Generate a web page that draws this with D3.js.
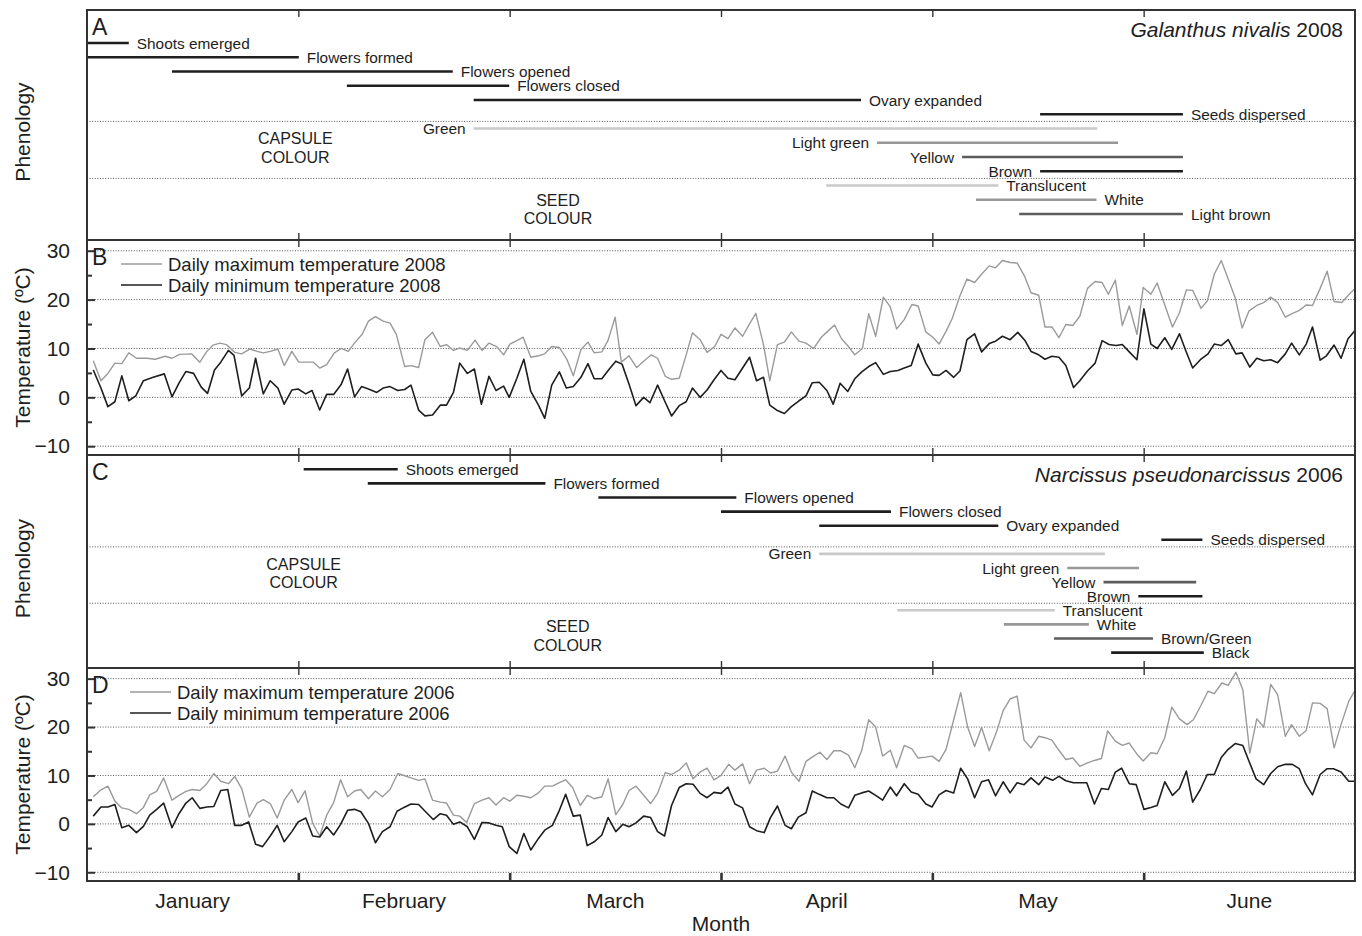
<!DOCTYPE html>
<html>
<head>
<meta charset="utf-8">
<script src="https://cdn.jsdelivr.net/npm/d3@7"></script>
<style>
  body { margin: 0; background: #fff; }
  svg { display: block; font-family: "Liberation Sans", Arial, Helvetica, sans-serif; }
</style>
</head>
<body>
<svg id="chart" width="1362" height="936"></svg>
<script>
// ---- data ----
const months = ["January", "February", "March", "April", "May", "June"];
const dayCount = 182; // Jan 1 .. Jun 30

// phenology: [label, first day, last day] (day 0 = 1 January)
const galanthusStages = [
    ["Shoots emerged", 0, 6.0],
    ["Flowers formed", 0, 30.4],
    ["Flowers opened", 12.2, 52.5],
    ["Flowers closed", 37.3, 60.6],
    ["Ovary expanded", 55.5, 111.1],
    ["Seeds dispersed", 136.8, 157.3]
];
const galanthusCapsule = [
    ["Green", 55.5, 145.0],
    ["Light green", 113.4, 148.0],
    ["Yellow", 125.6, 157.3],
    ["Brown", 136.8, 157.3]
];
const galanthusSeed = [
    ["Translucent", 106.1, 130.8],
    ["White", 127.6, 144.9],
    ["Light brown", 133.8, 157.3]
];

const narcissusStages = [
    ["Shoots emerged", 31.1, 44.6],
    ["Flowers formed", 40.3, 65.8],
    ["Flowers opened", 73.4, 93.2],
    ["Flowers closed", 91.0, 115.4],
    ["Ovary expanded", 105.1, 130.8],
    ["Seeds dispersed", 154.2, 160.1]
];
const narcissusCapsule = [
    ["Green", 105.1, 146.1],
    ["Light green", 140.7, 151.0],
    ["Yellow", 145.9, 159.2],
    ["Brown", 150.9, 160.1]
];
const narcissusSeed = [
    ["Translucent", 116.3, 138.9],
    ["White", 131.6, 143.8],
    ["Brown/Green", 138.8, 153.0],
    ["Black", 147.0, 160.3]
];

// daily temperatures: [day, ºC]
const maxTemp2008 = [[0.9,7.5],[2,3.4],[3,4.9],[4,7.0],[5,6.9],[6,9.1],[7.1,8.0],[8.6,8.0],[9.8,7.8],[11.2,8.4],[12.2,8.0],[13.3,8.8],[15,8.9],[16.2,7.2],[17.2,9.4],[18.1,10.7],[19.1,11.1],[20,10.8],[21.2,9.2],[22.2,8.9],[23.4,9.9],[24.4,9.4],[25.3,9.1],[26.3,9.4],[27.4,9.9],[28.3,6.5],[29.4,9.4],[30.4,7.2],[31.5,7.2],[32.5,7.2],[33.4,6.0],[34.4,6.7],[35.5,9.1],[36.5,10.0],[37.5,9.4],[38.5,11.3],[39.5,12.9],[40.4,15.6],[41.4,16.5],[42.5,15.6],[43.5,15.2],[44.4,12.9],[45.6,6.3],[46.5,6.5],[47.6,6.1],[48.5,11.8],[49.6,13.3],[50.7,10.4],[51.6,10.8],[52.6,9.6],[53.5,10.1],[54.6,9.6],[55.7,11.7],[56.7,9.6],[57.7,11.1],[58.8,10.4],[59.8,8.7],
    [60.7,10.9],[61.7,11.6],[62.6,12.3],[63.7,8.2],[64.8,8.5],[65.7,8.9],[66.7,10.4],[67.8,10.2],[68.9,7.7],[69.8,4.4],[70.9,9.8],[71.9,11.3],[72.8,9.1],[73.9,9.3],[74.8,11.7],[75.8,16.4],[76.7,7.2],[77.8,8.5],[78.9,6.1],[79.9,7.4],[81,8.7],[81.9,8.0],[83,4.3],[83.9,3.7],[85,3.9],[86,8.7],[86.9,13.2],[88,11.8],[89,9.2],[90.1,10.4],[91,12.9],[92,12.0],[93,14.2],[94.1,12.5],[95.2,15.3],[96,17.2],[97.1,10.8],[98,3.4],[99.1,10.8],[100.1,11.3],[101.1,13.4],[102.2,11.5],[103.2,11.1],[104.3,10.0],[105.4,12.3],[106.3,13.5],[107.3,14.8],[108.3,12.0],[109.3,10.4],[110.2,8.7],[111.3,10.0],[112.2,17.1],[113.2,12.5],[114.3,20.5],[115.3,18.5],[116.2,14.0],[117.3,15.9],[118.4,19.0],[119.3,18.7],[120.4,13.4],
    [121.4,12.3],[122.3,10.9],[123.3,13.5],[124.2,16.2],[125.3,20.8],[126.3,24.2],[127.4,23.5],[128.4,25.2],[129.5,26.9],[130.4,26.5],[131.4,28.0],[132.5,27.6],[133.5,27.5],[134.6,24.7],[135.5,21.4],[136.6,20.9],[137.5,14.4],[138.5,14.4],[139.5,12.2],[140.5,14.9],[141.5,14.7],[142.5,16.6],[143.6,22.3],[144.7,23.7],[145.7,23.5],[146.6,21.1],[147.6,24.0],[148.6,14.7],[149.6,18.7],[150.7,12.9],[151.6,22.5],[152.7,21.1],[153.6,23.4],[154.7,18.9],[155.8,14.4],[156.8,17.3],[157.8,22.0],[158.7,21.9],[159.9,18.2],[160.8,19.7],[161.8,25.2],[162.8,28.0],[163.8,24.2],[164.8,20.4],[165.8,14.2],[166.8,17.7],[167.9,18.8],[168.9,19.4],[169.9,20.5],[170.9,19.4],[172,16.4],[172.9,17.1],[174,17.8],[175,18.9],[175.9,18.8],[177,22.3],[178,25.8],[179,19.6],[180.1,19.4],[181.1,21.0],[182,22.3]];

const minTemp2008 = [[0.9,5.6],[2,1.9],[3,-1.9],[4,-0.9],[5,4.4],[6,-0.7],[7,0.3],[8.1,3.4],[9.5,4.1],[11.1,4.8],[12.2,0.1],[13.2,2.9],[14.2,5.3],[15.3,4.9],[16.4,2.1],[17.3,0.8],[18.3,5.6],[19.2,7.2],[20.3,9.6],[21.1,8.6],[22.2,0.3],[23.3,1.9],[24.2,8.0],[25.3,0.7],[26.3,3.4],[27.4,1.9],[28.3,-1.4],[29.4,1.5],[30.3,1.7],[31.4,0.7],[32.3,1.4],[33.4,-2.6],[34.4,0.6],[35.4,0.6],[36.5,2.7],[37.4,5.8],[38.4,0.1],[39.4,2.2],[40.4,1.7],[41.6,1.0],[42.5,1.9],[43.5,2.2],[44.6,1.4],[45.6,1.6],[46.5,2.5],[47.6,-2.6],[48.5,-3.8],[49.6,-3.6],[50.7,-1.6],[51.6,-1.6],[52.6,1.0],[53.5,7.0],[54.6,4.9],[55.6,5.8],[56.6,-1.4],[57.7,4.3],[58.7,1.4],[59.8,2.3],[60.6,0.0],
    [61.7,3.9],[62.7,7.8],[63.7,1.2],[64.8,-1.6],[65.7,-4.3],[66.7,2.5],[67.8,5.2],[68.8,1.9],[69.8,2.2],[70.9,4.1],[71.9,6.9],[72.8,3.8],[73.9,3.8],[74.8,5.5],[75.9,7.4],[76.8,6.8],[77.8,2.7],[78.8,-1.7],[79.9,0],[80.8,-1.1],[81.9,2.5],[82.9,-0.7],[83.9,-3.8],[85,-1.7],[86,-0.9],[86.9,1.9],[88,0],[89,1.5],[90,3.6],[91,5.5],[92,3.9],[93,3.6],[94.1,6.0],[95.1,8.2],[96.1,3.4],[97.1,4.1],[98,-1.6],[99.1,-2.7],[100.1,-3.3],[101.1,-1.9],[102.2,-0.7],[103.2,0.3],[104.1,3.0],[105.1,3.1],[106.2,1.4],[107.1,-1.4],[108.1,2.9],[109.2,1.2],[110.2,3.8],[111.2,5.2],[112.2,6.3],[113.2,7.1],[114.3,4.7],[115.3,5.3],[116.4,5.5],[117.3,6.0],[118.3,6.5],[119.3,10.9],[120.4,7.0],
    [121.4,4.6],[122.3,4.5],[123.3,5.5],[124.4,4.1],[125.3,5.4],[126.3,11.8],[127.4,13.0],[128.4,9.3],[129.5,11.0],[130.4,11.5],[131.4,12.5],[132.5,11.8],[133.6,13.3],[134.6,11.7],[135.5,9.4],[136.6,8.7],[137.5,7.8],[138.5,8.4],[139.5,8.2],[140.5,6.5],[141.6,2.0],[142.5,3.4],[143.6,5.4],[144.7,7.0],[145.7,11.6],[146.7,10.8],[147.7,10.6],[148.6,10.8],[149.6,9.3],[150.7,7.7],[151.7,18.1],[152.7,10.9],[153.6,10.0],[154.7,12.2],[155.7,9.8],[156.8,13.0],[157.7,9.6],[158.7,6.0],[159.8,7.7],[160.9,8.9],[161.8,10.9],[162.8,10.6],[163.8,11.8],[164.9,8.9],[165.8,9.1],[166.9,6.2],[167.9,8.0],[168.9,7.5],[169.9,7.7],[170.9,7.1],[172,8.9],[172.9,11.1],[174,8.7],[175,10.9],[175.9,14.4],[177,7.6],[177.9,8.5],[179,10.7],[180,8.0],[181,12.0],[182,13.7]];

const maxTemp2006 = [[0.9,5.6],[1.9,6.9],[3,7.8],[4,4.7],[5,3.3],[6,3.0],[7.1,2.1],[8.1,3.4],[9,6.0],[10,6.7],[11,9.5],[12.2,4.9],[13.2,5.9],[14.2,6.7],[15.1,7.1],[16.2,6.9],[17.2,8.3],[18.2,10.4],[19.2,8.8],[20.3,8.3],[21.2,9.8],[22.2,7.3],[23.3,1.4],[24.4,4.3],[25.3,5.0],[26.3,4.2],[27.3,1.2],[28.3,4.9],[29.4,7.1],[30.3,4.4],[31.3,6.8],[32.4,0.1],[33.4,-2.5],[34.4,1.8],[35.4,4.4],[36.4,9.1],[37.4,5.6],[38.4,6.8],[39.3,7.1],[40.4,5.2],[41.4,6.8],[42.4,5.6],[43.5,7.1],[44.6,10.4],[45.5,10.0],[46.5,9.5],[47.6,9.0],[48.5,9.3],[49.6,4.9],[50.7,4.5],[51.6,4.3],[52.6,1.8],[53.5,1.6],[54.5,0.3],[55.6,4.2],[56.7,4.9],[57.7,5.4],[58.7,3.9],[59.8,5.4],
    [60.7,4.7],[61.7,5.9],[62.7,5.7],[63.7,5.4],[64.8,6.4],[65.7,7.8],[66.8,7.8],[67.8,8.5],[68.7,9.1],[69.7,7.5],[70.8,3.8],[71.8,5.9],[72.8,5.2],[73.9,5.6],[74.8,9.3],[75.9,1.9],[76.9,4.0],[77.8,6.9],[78.8,7.8],[79.9,5.9],[80.9,4.2],[81.9,6.3],[83,10.6],[83.9,10.2],[85,11.1],[86,12.6],[87,9.3],[88,10.7],[89,11.5],[90,9.1],[91,10.0],[92.1,12.3],[93,11.1],[94.1,12.4],[95.1,8.3],[96.1,11.1],[97.2,11.5],[98.1,10.5],[99.1,10.9],[100.2,14.0],[101.1,10.7],[102.2,8.8],[103.2,12.9],[104.3,14.0],[105.2,14.8],[106.2,13.3],[107.2,15.1],[108.2,15.1],[109.3,14.2],[110.2,11.6],[111.2,15.2],[112.2,21.5],[113.2,20.0],[114.2,14.0],[115.3,15.2],[116.2,11.6],[117.3,16.2],[118.4,15.5],[119.3,13.6],[120.4,13.8],
    [121.3,14.0],[122.3,12.9],[123.3,15.4],[124.4,21.5],[125.4,27.1],[126.4,20.0],[127.4,16.0],[128.4,19.9],[129.5,15.1],[130.5,18.8],[131.5,23.4],[132.5,25.8],[133.5,26.4],[134.5,17.3],[135.5,15.7],[136.6,18.1],[137.5,17.8],[138.5,17.3],[139.5,15.2],[140.5,13.3],[141.5,13.6],[142.5,11.9],[143.6,12.6],[144.6,13.1],[145.6,13.5],[146.5,19.2],[147.6,17.1],[148.6,16.2],[149.6,16.7],[150.7,14.4],[151.6,13.0],[152.7,14.7],[153.6,14.5],[154.7,17.8],[155.7,24.1],[156.8,21.7],[157.9,20.5],[158.8,21.5],[159.9,24.5],[160.9,27.4],[161.8,26.9],[162.9,29.1],[163.8,28.6],[164.9,31.3],[165.9,27.7],[166.9,14.6],[167.9,21.7],[168.9,20.0],[169.9,28.8],[170.9,26.7],[172,18.1],[172.9,20.5],[174,18.1],[175,19.3],[175.9,25.0],[177,24.9],[178,23.8],[179,15.7],[180,20.5],[181.1,25.3],[182,27.6]];

const minTemp2006 = [[0.9,1.6],[2,3.5],[3,3.5],[4,4.0],[5,-0.8],[6,-0.3],[7.1,-1.8],[8.1,-0.5],[9,1.8],[10,3.0],[11,4.3],[12.2,-0.8],[13.2,2.1],[14.2,4.3],[15.1,5.4],[16.2,3.2],[17.2,3.5],[18.2,3.6],[19.2,6.9],[20.2,7.1],[21.2,-0.3],[22.2,-0.3],[23.2,0.4],[24.2,-4.2],[25.2,-4.7],[26.3,-2.5],[27.3,-0.3],[28.3,-3.7],[29.4,-1.6],[30.3,0.4],[31.4,1.2],[32.4,-2.5],[33.4,-2.7],[34.4,-0.6],[35.4,-2.3],[36.4,-0.1],[37.4,2.8],[38.4,3.0],[39.3,2.5],[40.4,0.1],[41.4,-3.9],[42.4,-1.6],[43.5,-0.6],[44.5,2.6],[45.5,3.4],[46.5,4.1],[47.6,4.0],[48.6,2.5],[49.7,0.9],[50.7,2.1],[51.6,1.8],[52.6,-0.1],[53.5,0.4],[54.6,-0.6],[55.6,-3.2],[56.7,0.3],[57.7,0.2],[58.7,-0.3],[59.6,-0.6],[60.6,-4.7],
    [61.7,-6.1],[62.7,-2.0],[63.7,-5.4],[64.8,-3.0],[65.7,-1.3],[66.8,-0.3],[67.8,2.8],[68.7,6.1],[69.8,1.6],[70.8,1.8],[71.8,-4.5],[72.8,-3.7],[73.9,-2.3],[74.8,1.3],[75.9,-1.6],[76.9,-0.1],[77.8,-0.6],[78.8,0.2],[79.9,1.6],[80.9,1.3],[81.9,-1.6],[82.9,-2.5],[83.9,3.8],[85,7.5],[86,8.3],[87,8.2],[88,6.3],[89,5.4],[90,6.5],[91,6.3],[92,7.6],[93,4.1],[94.1,3.3],[95.1,-0.6],[96.1,-1.4],[97.2,-1.8],[98.1,1.3],[99.1,3.7],[100.2,-0.3],[101.1,-1.0],[102.1,1.4],[103.2,2.3],[104.1,6.8],[105.1,6.1],[106.2,5.4],[107.2,5.4],[108.2,4.1],[109.3,3.3],[110.2,5.9],[111.2,6.4],[112.2,6.8],[113.2,5.9],[114.2,4.9],[115.3,7.6],[116.2,5.8],[117.3,8.3],[118.3,6.6],[119.3,6.1],[120.4,4.1],
    [121.3,3.5],[122.3,6.0],[123.3,6.9],[124.4,6.4],[125.4,11.5],[126.4,9.3],[127.4,5.4],[128.4,8.7],[129.4,9.1],[130.4,5.8],[131.5,8.7],[132.5,6.4],[133.5,8.5],[134.5,8.1],[135.5,9.5],[136.6,8.1],[137.5,9.7],[138.6,9.0],[139.5,9.8],[140.5,8.9],[141.6,8.5],[142.5,8.5],[143.5,8.5],[144.6,4.1],[145.6,7.3],[146.6,7.1],[147.6,10.7],[148.5,11.5],[149.6,8.3],[150.6,8.1],[151.7,3.0],[152.7,3.4],[153.6,3.8],[154.7,8.7],[155.8,5.9],[156.8,7.3],[157.8,10.9],[158.7,4.5],[159.8,7.1],[160.8,10.2],[161.8,10.2],[162.8,13.7],[163.8,15.4],[164.8,16.6],[165.9,16.2],[166.8,12.9],[167.8,9.3],[168.9,8.1],[169.9,10.4],[170.9,11.8],[172,12.3],[173,12.3],[174,11.4],[174.9,8.3],[175.9,6.0],[177,10.2],[178,11.4],[178.9,11.4],[180,10.7],[181.1,8.8],[182,8.8]];

const tempMajorTicks = [-10, 0, 10, 20, 30];
const tempMinorTicks = [-5, 5, 15, 25];

// ---- styles ----
const shade = {
    "Green": "#c9c9c9", "Translucent": "#c9c9c9",
    "Light green": "#979797", "White": "#979797",
    "Yellow": "#5c5c5c", "Light brown": "#5c5c5c", "Brown/Green": "#5c5c5c"
};
const ink = "#1e1e1e";
const frameCol = "#333";
const labelSize = 15.4;

const svg = d3.select("#chart");
const plotL = 87, plotR = 1355;
const x = d3.scaleLinear([0, dayCount], [plotL, plotR]);
const monthBounds = d3.range(months.length + 1).map(i => i * dayCount / months.length);

function monthTicks(g, top, bottom, width) {
    const inner = monthBounds.slice(1, -1);
    g.append("g").attr("transform", `translate(0,${top})`)
        .call(d3.axisBottom(x).tickValues(inner).tickSize(7).tickFormat(""))
        .call(a => a.select(".domain").remove())
        .selectAll("line").attr("stroke", frameCol).attr("stroke-width", 1.4);
    g.append("g").attr("transform", `translate(0,${bottom})`)
        .call(d3.axisTop(x).tickValues(inner).tickSize(width > 2 ? 8 : 7).tickFormat(""))
        .call(a => a.select(".domain").remove())
        .selectAll("line").attr("stroke", frameCol).attr("stroke-width", width);
}

function panelLetter(g, top, letter) {
    g.append("text").attr("x", plotL + 5).attr("y", top + 25)
        .attr("font-size", 23).attr("fill", ink).text(letter);
}

function yTitle(g, cy, label) {
    g.append("text")
        .attr("transform", `translate(30,${cy}) rotate(-90)`)
        .attr("text-anchor", "middle").attr("font-size", 21).attr("fill", ink)
        .text(label);
}

function drawPhenology(opt) {
    const g = svg.append("g");
    const rows = [...opt.stages, ...opt.capsule, ...opt.seed];
    const rowY = i => opt.top + opt.firstRow + i * opt.rowStep;
    const nStage = opt.stages.length, nCaps = opt.capsule.length;
    const sep1 = (rowY(nStage - 1) + rowY(nStage)) / 2;
    const sep2 = (rowY(nStage + nCaps - 1) + rowY(nStage + nCaps)) / 2;
    const isCapsule = i => i >= nStage && i < nStage + nCaps;

    g.selectAll(".sep").data([sep1, sep2]).enter().append("line")
        .attr("x1", plotL).attr("x2", plotR).attr("y1", d => d).attr("y2", d => d)
        .attr("stroke", "#555").attr("stroke-width", 1).attr("stroke-dasharray", "1,1.6");

    const items = g.selectAll(".phase").data(rows).enter().append("g");
    items.append("line")
        .attr("x1", d => x(d[1])).attr("x2", d => x(d[2]))
        .attr("y1", (d, i) => rowY(i)).attr("y2", (d, i) => rowY(i))
        .attr("stroke", d => shade[d[0]] || ink).attr("stroke-width", 2.6);
    items.append("text")
        .attr("x", (d, i) => isCapsule(i) ? x(d[1]) - 8 : x(d[2]) + 8)
        .attr("y", (d, i) => rowY(i)).attr("dy", "0.36em")
        .attr("text-anchor", (d, i) => isCapsule(i) ? "end" : "start")
        .attr("font-size", labelSize).attr("fill", ink)
        .text(d => d[0]);

    const regions = [
        { words: ["CAPSULE", "COLOUR"], day: opt.capsuleAt, cy: (sep1 + sep2) / 2 - 2 },
        { words: ["SEED", "COLOUR"], day: opt.seedAt, cy: (sep2 + opt.bottom) / 2 }
    ];
    regions.forEach(r => {
        r.words.forEach((w, k) => {
            g.append("text").attr("x", x(r.day)).attr("y", r.cy + (k ? 9.2 : -9.2)).attr("dy", "0.36em")
                .attr("text-anchor", "middle").attr("font-size", 16).attr("fill", ink).text(w);
        });
    });

    const title = g.append("text").attr("x", plotR - 12).attr("y", opt.top + 27)
        .attr("text-anchor", "end").attr("font-size", 21).attr("fill", ink);
    title.append("tspan").attr("font-style", "italic").text(opt.species);
    title.append("tspan").text(" " + opt.year);

    panelLetter(g, opt.top, opt.letter);
    monthTicks(g, opt.top, opt.bottom, 1.4);
    yTitle(g, (opt.top + opt.bottom) / 2 + 7, "Phenology");
}

function drawTemperature(opt) {
    const g = svg.append("g");
    const y = d3.scaleLinear([-11.8, 32.2], [opt.bottom, opt.top]);

    g.selectAll(".grid").data(tempMajorTicks).enter().append("line")
        .attr("x1", plotL).attr("x2", plotR).attr("y1", d => y(d)).attr("y2", d => y(d))
        .attr("stroke", "#555").attr("stroke-width", 1).attr("stroke-dasharray", "1,1.6");

    const line = d3.line().x(d => x(d[0])).y(d => y(d[1])).curve(d3.curveLinear);
    g.append("path").datum(opt.max).attr("d", line)
        .attr("fill", "none").attr("stroke", "#9a9a9a").attr("stroke-width", 1.4)
        .attr("stroke-linejoin", "round");
    g.append("path").datum(opt.min).attr("d", line)
        .attr("fill", "none").attr("stroke", ink).attr("stroke-width", 1.6)
        .attr("stroke-linejoin", "round");

    g.append("g").attr("transform", `translate(${plotL},0)`)
        .call(d3.axisLeft(y).tickValues(tempMajorTicks).tickSize(-8).tickPadding(17))
        .call(a => a.select(".domain").remove())
        .call(a => a.selectAll("line").attr("stroke", frameCol).attr("stroke-width", 2))
        .call(a => a.selectAll("text").attr("font-size", 21).attr("fill", ink)
            .attr("font-family", "'Liberation Sans', Arial, sans-serif"));
    g.append("g").attr("transform", `translate(${plotL},0)`)
        .call(d3.axisLeft(y).tickValues(tempMinorTicks).tickSize(-5).tickFormat(""))
        .call(a => a.select(".domain").remove())
        .call(a => a.selectAll("line").attr("stroke", frameCol).attr("stroke-width", 2));

    const legend = [
        { label: "Daily maximum temperature " + opt.year, col: "#9a9a9a" },
        { label: "Daily minimum temperature " + opt.year, col: ink }
    ];
    legend.forEach((l, i) => {
        const ly = opt.top + 24 + i * 21;
        g.append("line").attr("x1", opt.legendX).attr("x2", opt.legendX + 41)
            .attr("y1", ly).attr("y2", ly).attr("stroke", l.col).attr("stroke-width", 1.4);
        g.append("text").attr("x", opt.legendX + 47).attr("y", ly).attr("dy", "0.36em")
            .attr("font-size", 18.5).attr("fill", ink).text(l.label);
    });

    panelLetter(g, opt.top, opt.letter);
    monthTicks(g, opt.top, opt.bottom, opt.last ? 2.6 : 1.4);
    yTitle(g, (opt.top + opt.bottom) / 2, "Temperature (ºC)");
}

drawPhenology({ top: 10, bottom: 240, firstRow: 33, rowStep: 14.25, letter: "A",
    stages: galanthusStages, capsule: galanthusCapsule, seed: galanthusSeed,
    capsuleAt: 29.9, seedAt: 67.6, species: "Galanthus nivalis", year: 2008 });
drawTemperature({ top: 240, bottom: 455, letter: "B", max: maxTemp2008, min: minTemp2008,
    year: 2008, legendX: 121 });
drawPhenology({ top: 455, bottom: 668, firstRow: 14.3, rowStep: 14.1, letter: "C",
    stages: narcissusStages, capsule: narcissusCapsule, seed: narcissusSeed,
    capsuleAt: 31.1, seedAt: 69.0, species: "Narcissus pseudonarcissus", year: 2006 });
drawTemperature({ top: 668, bottom: 881, letter: "D", max: maxTemp2006, min: minTemp2006,
    year: 2006, legendX: 130, last: true });

// frames
[[10, 240], [240, 455], [455, 668], [668, 881]].forEach(([t, b]) => {
    svg.append("rect").attr("x", plotL).attr("y", t).attr("width", plotR - plotL).attr("height", b - t)
        .attr("fill", "none").attr("stroke", frameCol).attr("stroke-width", 2);
});

// month labels
svg.selectAll(".month").data(months).enter().append("text")
    .attr("x", (d, i) => x((monthBounds[i] + monthBounds[i + 1]) / 2))
    .attr("y", 908).attr("text-anchor", "middle").attr("font-size", 21).attr("fill", ink)
    .text(d => d);
svg.append("text").attr("x", x(dayCount / 2)).attr("y", 931)
    .attr("text-anchor", "middle").attr("font-size", 21).attr("fill", ink).text("Month");
</script>
</body>
</html>
